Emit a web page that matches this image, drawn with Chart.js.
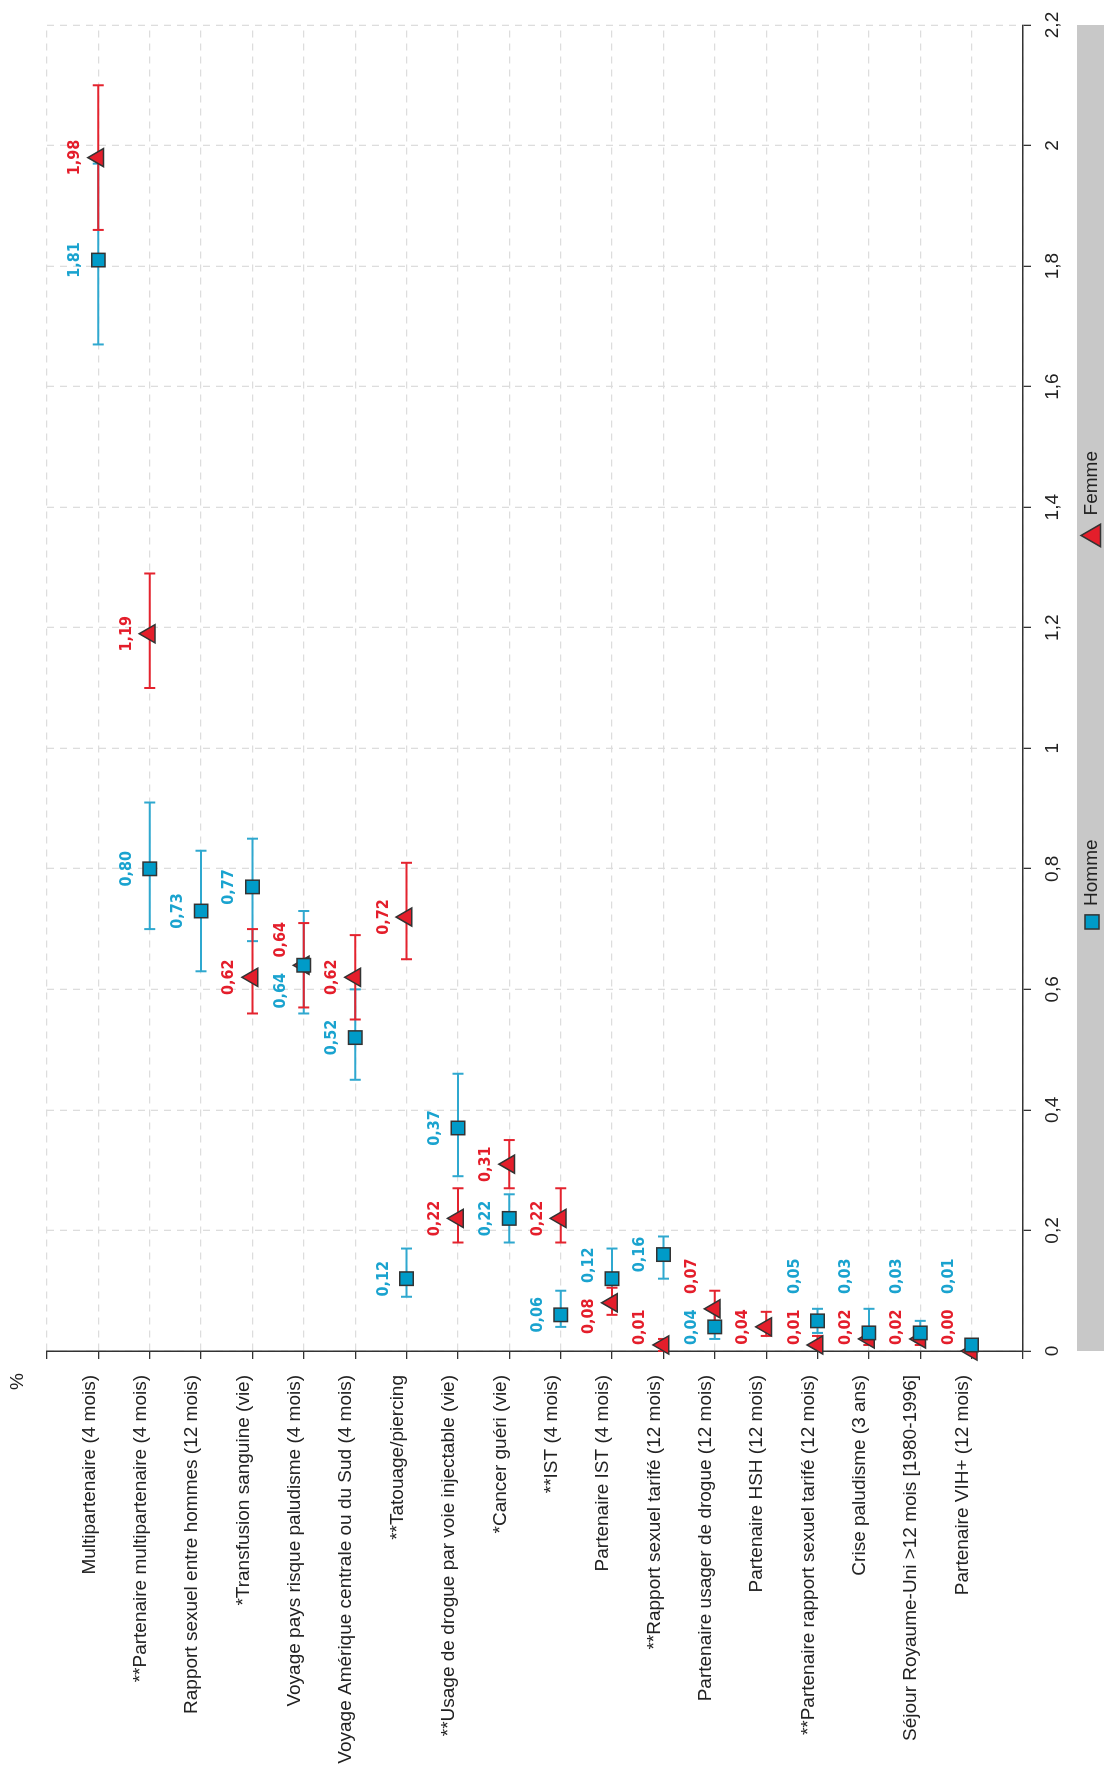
<!DOCTYPE html>
<html lang="fr">
<head>
<meta charset="utf-8">
<title>Facteurs de risque</title>
<script src="https://cdn.jsdelivr.net/npm/chart.js@4.4.1/dist/chart.umd.min.js"></script>
<style>
  html, body { margin: 0; padding: 0; background: #fff; }
  body { width: 1104px; height: 1769px; overflow: hidden; position: relative; }
  /* the chart is drawn lying down and turned a quarter turn, like the printed figure */
  #wrap { position: absolute; left: 0; top: 0; width: 1769px; height: 1104px;
          transform-origin: 0 0; transform: translate(0, 1769px) rotate(-90deg); }
</style>
</head>
<body>
<div id="wrap"><canvas id="myChart" width="1769" height="1104"></canvas></div>
<script>
const categories = [
    'Multipartenaire (4 mois)',
    '**Partenaire multipartenaire (4 mois)',
    'Rapport sexuel entre hommes (12 mois)',
    '*Transfusion sanguine (vie)',
    'Voyage pays risque paludisme (4 mois)',
    'Voyage Amérique centrale ou du Sud (4 mois)',
    '**Tatouage/piercing',
    '**Usage de drogue par voie injectable (vie)',
    '*Cancer guéri (vie)',
    '**IST (4 mois)',
    'Partenaire IST (4 mois)',
    '**Rapport sexuel tarifé (12 mois)',
    'Partenaire usager de drogue (12 mois)',
    'Partenaire HSH (12 mois)',
    '**Partenaire rapport sexuel tarifé (12 mois)',
    'Crise paludisme (3 ans)',
    'Séjour Royaume-Uni >12 mois [1980-1996]',
    'Partenaire VIH+ (12 mois)'
];

const hommeValues = [1.81, 0.80, 0.73, 0.77, 0.64, 0.52, 0.12, 0.37, 0.22, 0.06, 0.12, 0.16, 0.04, null, 0.05, 0.03, 0.03, 0.01];
const hommeLow    = [1.67, 0.70, 0.63, 0.68, 0.56, 0.45, 0.09, 0.29, 0.18, 0.04, 0.08, 0.12, 0.02, null, 0.03, 0.01, 0.015, 0.005];
const hommeHigh   = [1.97, 0.91, 0.83, 0.85, 0.73, 0.60, 0.17, 0.46, 0.26, 0.10, 0.17, 0.19, 0.07, null, 0.07, 0.07, 0.05, 0.015];

const femmeValues = [1.98, 1.19, null, 0.62, 0.64, 0.62, 0.72, 0.22, 0.31, 0.22, 0.08, 0.01, 0.07, 0.04, 0.01, 0.02, 0.02, 0.00];
const femmeLow    = [1.86, 1.10, null, 0.56, 0.57, 0.55, 0.65, 0.18, 0.27, 0.18, 0.06, 0.00, 0.045, 0.025, 0.005, 0.01, 0.01, 0.00];
const femmeHigh   = [2.10, 1.29, null, 0.70, 0.71, 0.69, 0.81, 0.27, 0.35, 0.27, 0.105, 0.02, 0.10, 0.065, 0.025, 0.04, 0.035, 0.005];

const valueMax = 2.2;
const valueStep = 0.2;

const sans = "'Liberation Sans', Arial, sans-serif";
const condensed = "'DejaVu Sans Condensed', 'Liberation Sans', sans-serif";
const blue = '#009bc8';
const blueText = '#1aa3cf';
const blueBar = '#2fa8cf';
const red = '#e41e2b';
const redBar = '#e4232e';

Chart.defaults.font.family = sans;
Chart.defaults.color = '#222';

const series = [
    { label: 'Homme', values: hommeValues, low: hommeLow, high: hommeHigh, bar: blueBar, text: blueText },
    { label: 'Femme', values: femmeValues, low: femmeLow, high: femmeHigh, bar: redBar, text: red }
];

function fmtTick(v) {
    return String(+v.toFixed(1)).replace('.', ',');
}

// error bars, under the markers
const errorBars = {
    id: 'errorBars',
    beforeDatasetsDraw(chart) {
        const { ctx, scales: { x, y } } = chart;
        ctx.save();
        ctx.lineWidth = 2;
        series.forEach(s => {
            ctx.strokeStyle = s.bar;
            s.low.forEach((lo, i) => {
                if (lo == null) return;
                const py = y.getPixelForValue(i + 1);
                const x1 = x.getPixelForValue(lo);
                const x2 = x.getPixelForValue(s.high[i]);
                ctx.beginPath();
                ctx.moveTo(x1, py); ctx.lineTo(x2, py);
                ctx.moveTo(x1, py - 5.5); ctx.lineTo(x1, py + 5.5);
                ctx.moveTo(x2, py - 5.5); ctx.lineTo(x2, py + 5.5);
                ctx.stroke();
            });
        });
        ctx.restore();
    }
};

// value labels above each marker, pushed apart when they would overlap
const valueLabels = {
    id: 'valueLabels',
    afterDatasetsDraw(chart) {
        const { ctx, chartArea, scales: { x, y } } = chart;
        const minGap = 51;
        ctx.save();
        ctx.font = 'bold 16px ' + condensed;
        ctx.textAlign = 'center';
        ctx.textBaseline = 'alphabetic';
        categories.forEach((c, i) => {
            const items = [];
            series.forEach(s => {
                const v = s.values[i];
                if (v == null) return;
                const text = v.toFixed(2).replace('.', ',');
                items.push({ v, text, color: s.text, w: ctx.measureText(text).width, cx: x.getPixelForValue(v) });
            });
            items.sort((a, b) => a.v - b.v);
            if (items.length === 2) {
                const need = minGap - (items[1].cx - items[0].cx);
                if (need > 0) { items[0].cx -= need / 2; items[1].cx += need / 2; }
            }
            items.forEach(it => {
                const lim = chartArea.left + 6 + it.w / 2;
                if (it.cx < lim) it.cx = lim;
            });
            if (items.length === 2 && items[1].cx - items[0].cx < minGap) items[1].cx = items[0].cx + minGap;
            const py = y.getPixelForValue(i + 1) - 19;
            items.forEach(it => {
                ctx.fillStyle = it.color;
                ctx.fillText(it.text, it.cx, py);
            });
        });
        ctx.restore();
    }
};

// grey legend band under the value axis, and the "%" unit
const legendBand = {
    id: 'legendBand',
    afterDraw(chart) {
        const { ctx, chartArea, height } = chart;
        ctx.save();
        ctx.fillStyle = '#c8c8c8';
        ctx.fillRect(chartArea.left, height - 27, chartArea.right - chartArea.left, 27);

        ctx.font = '19px ' + sans;
        ctx.textBaseline = 'middle';
        ctx.textAlign = 'left';
        const items = chart.data.datasets.map(ds => ({
            label: ds.label,
            style: ds.pointStyle,
            fill: ds.backgroundColor,
            half: ds.pointStyle === 'triangle' ? 11 : 7,
            radius: ds.pointStyle === 'triangle' ? 13 : 10
        }));
        const gap = 9, spacing = 293;
        items.forEach(it => it.w = it.half * 2 + gap + ctx.measureText(it.label).width);
        const total = items.reduce((a, it) => a + it.w, 0) + spacing * (items.length - 1);
        let xpos = (chartArea.left + chartArea.right) / 2 - 2 - total / 2;
        const ym = height - 12;
        items.forEach(it => {
            ctx.fillStyle = it.fill;
            ctx.strokeStyle = '#333';
            Chart.helpers.drawPoint(ctx, { pointStyle: it.style, radius: it.radius, borderWidth: 1.5, rotation: 0 }, xpos + it.half, ym + (it.style === 'triangle' ? 2 : 0));
            ctx.fillStyle = '#222';
            ctx.fillText(it.label, xpos + it.half * 2 + gap, ym);
            xpos += it.w + spacing;
        });

        ctx.textAlign = 'right';
        ctx.fillText('%', chartArea.left - 22, chartArea.top - 29);
        ctx.restore();
    }
};

const ctx = document.getElementById('myChart');

new Chart(ctx, {
    type: 'scatter',
    data: {
        datasets: [
            {
                label: 'Homme',
                data: hommeValues.map((v, i) => ({ x: v, y: i + 1 })),
                pointStyle: 'rect',
                pointRadius: 9.5,
                backgroundColor: blue,
                borderColor: '#333',
                borderWidth: 1.5,
                clip: false
            },
            {
                label: 'Femme',
                data: femmeValues.map((v, i) => ({ x: v, y: i + 1 })),
                pointStyle: 'triangle',
                pointRadius: 10.5,
                backgroundColor: red,
                borderColor: '#333',
                borderWidth: 1.5,
                clip: false
            }
        ]
    },
    options: {
        responsive: false,
        animation: false,
        events: [],
        layout: { padding: { top: 47, right: 25, left: 0, bottom: 0 } },
        plugins: {
            legend: { display: false },
            tooltip: { enabled: false }
        },
        scales: {
            x: {
                type: 'linear',
                position: 'bottom',
                min: 0,
                max: valueMax,
                afterFit: (scale) => { scale.height = 81; },
                ticks: {
                    stepSize: valueStep,
                    padding: 10,
                    color: '#222',
                    font: { size: 19 },
                    callback: (v) => fmtTick(v)
                },
                grid: {
                    color: '#dddddd',
                    lineWidth: 1.3,
                    tickColor: '#333',
                    tickLength: 8,
                    tickWidth: 1.3,
                    tickBorderDash: []
                },
                border: { display: true, color: '#333', width: 1.5, dash: [7, 6] }
            },
            y: {
                type: 'linear',
                position: 'left',
                reverse: true,
                min: 0,
                max: categories.length + 1,
                afterFit: (scale) => { scale.width = 418; },
                afterBuildTicks: (scale) => {
                    scale.ticks = Array.from({ length: categories.length + 2 }, (_, k) => ({ value: k }));
                },
                ticks: {
                    autoSkip: false,
                    padding: 16,
                    labelOffset: -9,
                    color: '#222',
                    font: { size: 19 },
                    callback: (v) => categories[v - 1] || ''
                },
                grid: {
                    color: '#dddddd',
                    lineWidth: 1.3,
                    tickColor: '#333',
                    tickLength: 8,
                    tickWidth: 1.3,
                    tickBorderDash: []
                },
                border: { display: true, color: '#333', width: 1.5, dash: [7, 6] }
            }
        }
    },
    plugins: [errorBars, valueLabels, legendBand]
});
</script>
</body>
</html>
